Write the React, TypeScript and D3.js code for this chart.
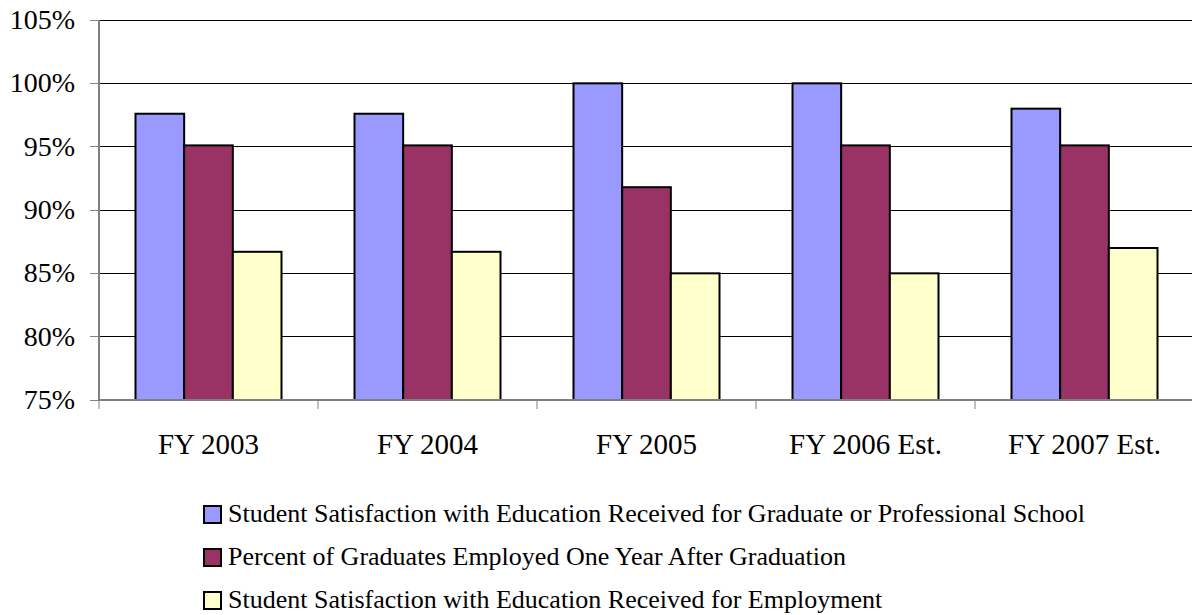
import React from "react";
import * as d3 from "d3";

const categories = ["FY 2003", "FY 2004", "FY 2005", "FY 2006 Est.", "FY 2007 Est."];
const seriesNames = [
  "Student Satisfaction with Education Received for Graduate or Professional School",
  "Percent of Graduates Employed One Year After Graduation",
  "Student Satisfaction with Education Received for Employment",
];
const gradSatisfaction = [97.6, 97.6, 100, 100, 98];
const employed = [95.1, 95.1, 91.8, 95.1, 95.1];
const employSatisfaction = [86.7, 86.7, 85, 85, 87];
const yTicks = [75, 80, 85, 90, 95, 100, 105];
const colors = ["#9999FF", "#993366", "#FFFFCC"];

const FAMILY = "'Liberation Serif', Tinos, 'Times New Roman', Times, serif";

export default function App() {
  const W = 1192, H = 615;
  const left = 99, right = 1194, top = 20, bottom = 400;
  const series = [gradSatisfaction, employed, employSatisfaction];
  const x = d3.scaleBand<string>().domain(categories).range([left, right]).paddingInner(0).paddingOuter(0);
  const y = d3.scaleLinear().domain([75, 105]).range([bottom, top]);
  const bw = x.bandwidth();
  const barW = bw / 4.5;
  const ts = { fontFamily: FAMILY };

  return (
    <svg width={W} height={H} style={{ position: "absolute", left: 0, top: 0, fontFamily: FAMILY }}>
      <style>{`text { font-family: ${FAMILY}; }`}</style>
      <rect x={0} y={0} width={W} height={H} fill="#fff" />
      {yTicks.map((t) => (
        <line key={"g" + t} x1={left} x2={right} y1={y(t)} y2={y(t)} stroke="#000" strokeWidth={1} shapeRendering="crispEdges" />
      ))}
      {yTicks.map((t) => (
        <line key={"k" + t} x1={90} x2={left} y1={y(t)} y2={y(t)} stroke="#808080" strokeWidth={1} shapeRendering="crispEdges" />
      ))}
      {yTicks.map((t) => (
        <text key={"l" + t} x={75} y={y(t) + 9} textAnchor="end" style={ts} fontSize={28} fill="#000">
          {t}%
        </text>
      ))}
      {series.map((vals, si) =>
        categories.map((c, ci) => {
          const gx = (x(c) as number) + (bw - 3 * barW) / 2 + barW * si;
          return (
            <rect
              key={si + "-" + ci}
              x={gx}
              y={y(vals[ci])}
              width={barW}
              height={bottom - y(vals[ci])}
              fill={colors[si]}
              stroke="#000"
              strokeWidth={2}
            />
          );
        })
      )}
      <line x1={left} x2={left} y1={top} y2={bottom} stroke="#808080" strokeWidth={2} />
      <line x1={left} x2={right} y1={bottom} y2={bottom} stroke="#808080" strokeWidth={2} />
      {categories.concat([""]).map((c, i) => {
        const xx = left + bw * i;
        return <line key={"t" + i} x1={xx} x2={xx} y1={bottom} y2={bottom + 9} stroke="#808080" strokeWidth={1} />;
      })}
      {categories.map((c) => (
        <text key={c} x={(x(c) as number) + bw / 2} y={454} textAnchor="middle" style={ts} fontSize={29} fill="#000">
          {c}
        </text>
      ))}
      {seriesNames.map((n, i) => (
        <rect key={"s" + i} x={204} y={506 + i * 43} width={17} height={17} fill={colors[i]} stroke="#000" strokeWidth={2} />
      ))}
      {seriesNames.map((n, i) => (
        <text key={"n" + i} x={228} y={522 + i * 43} style={ts} fontSize={26} fill="#000">
          {n}
        </text>
      ))}
    </svg>
  );
}
